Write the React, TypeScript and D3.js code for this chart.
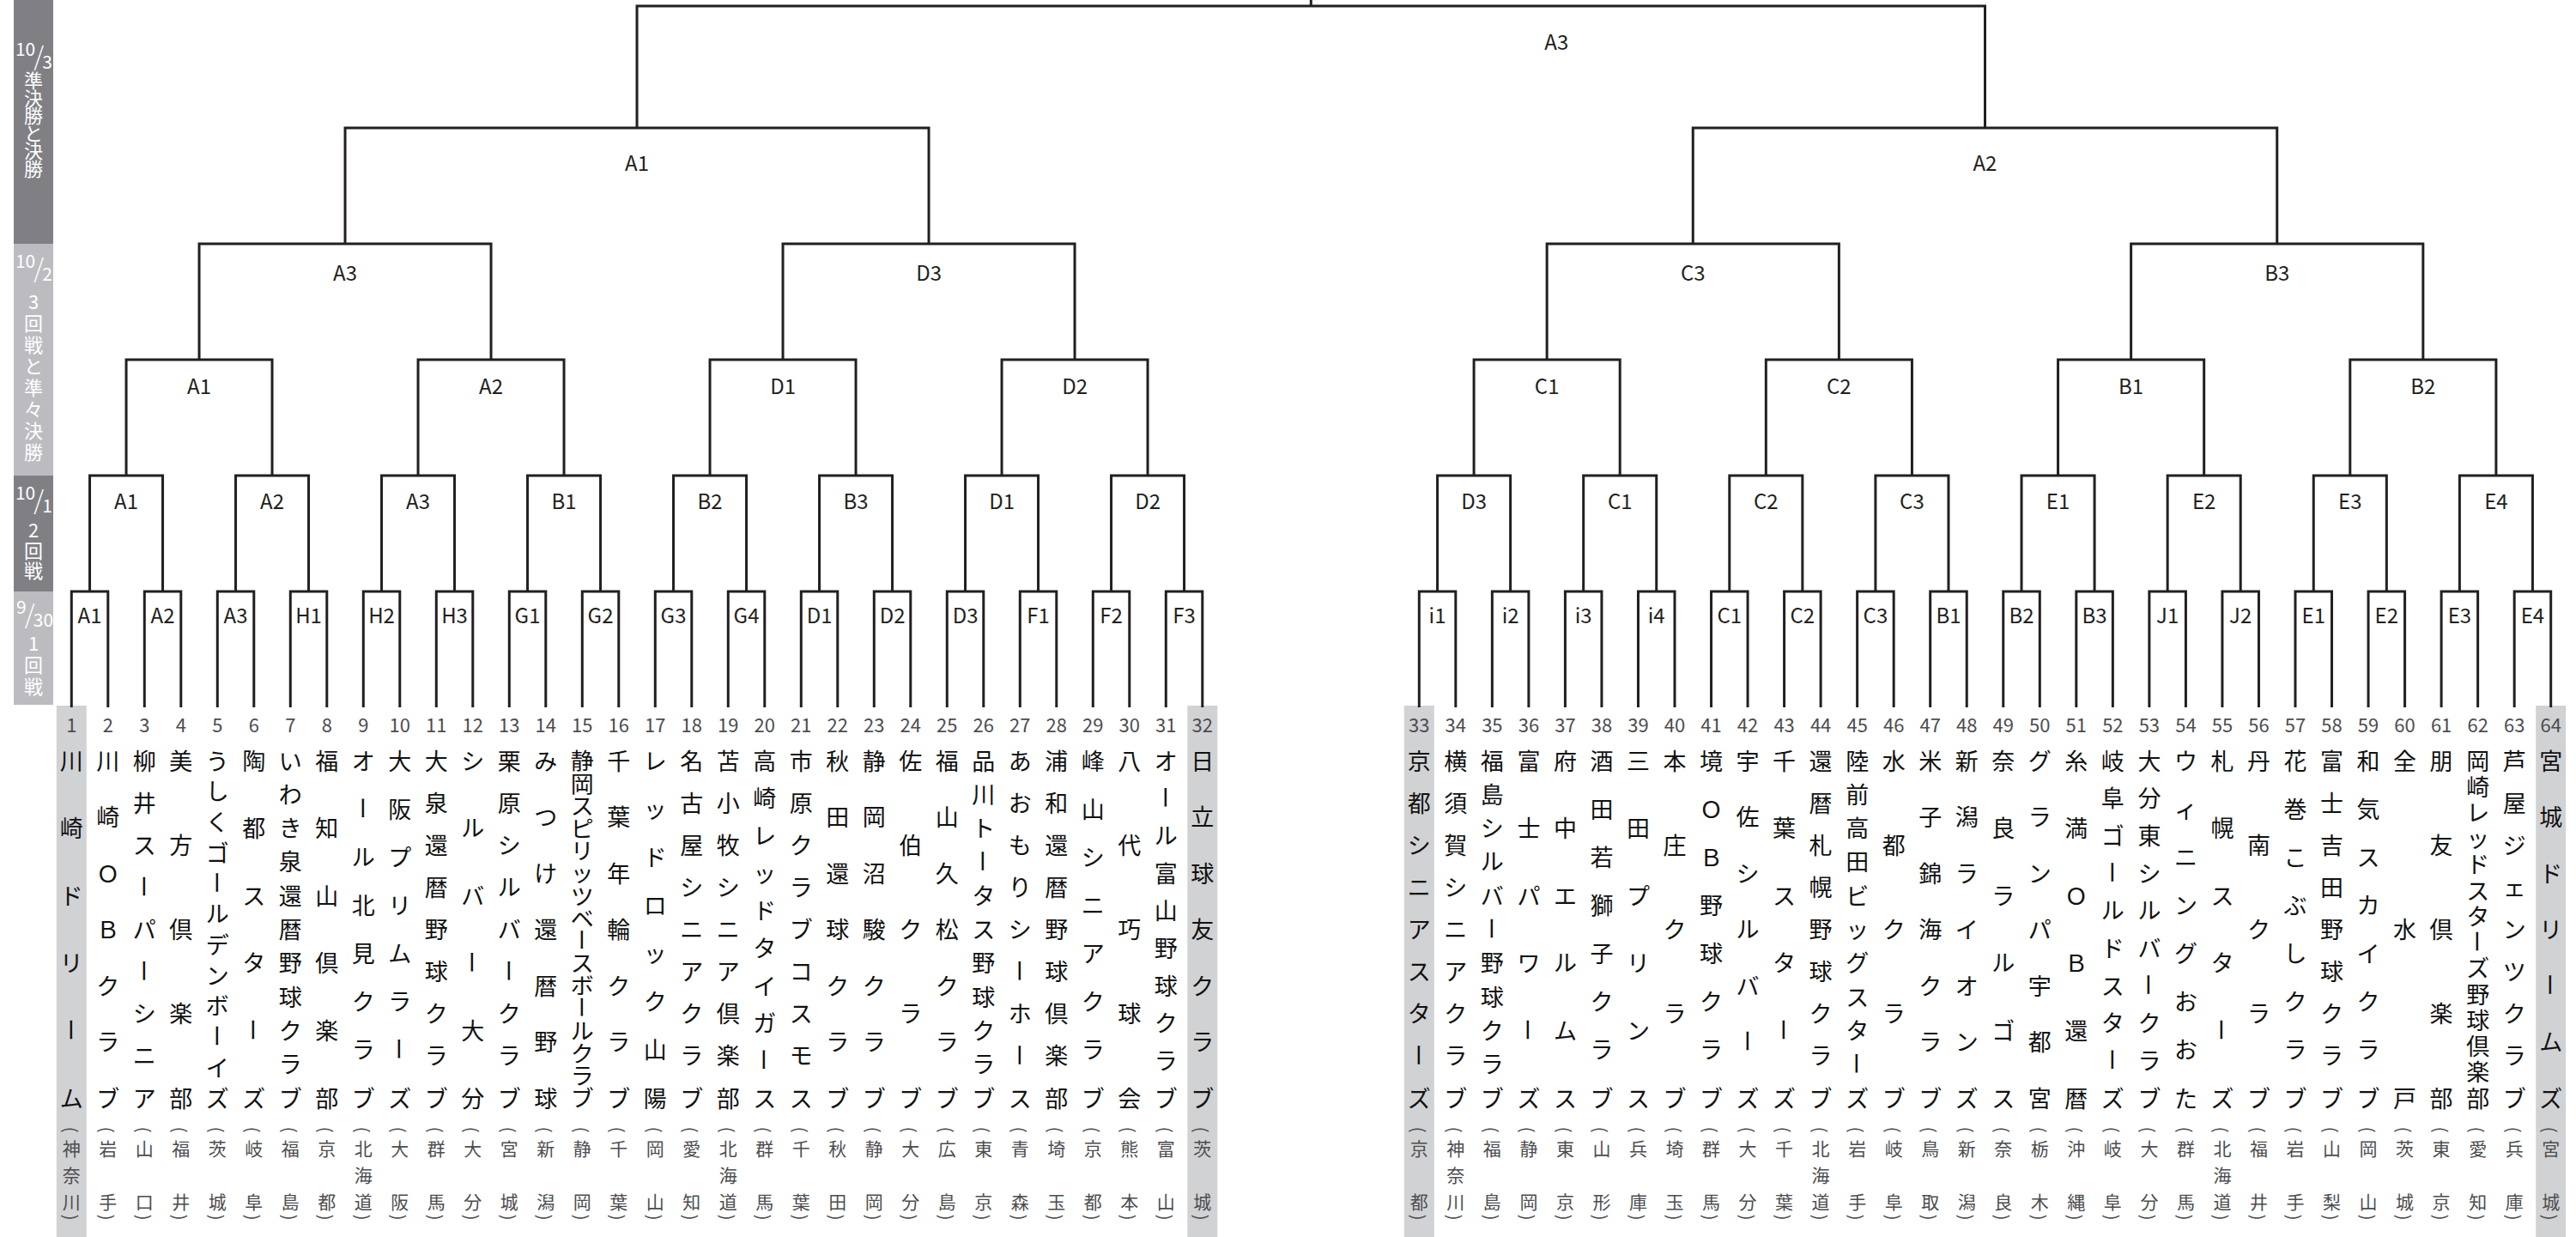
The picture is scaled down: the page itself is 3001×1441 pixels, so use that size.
import React from 'react';
import * as d3 from 'd3';

const teamNames = [
  '川崎ドリーム', '川崎ＯＢクラブ', '柳井スーパーシニア', '美方倶楽部', 'うしくゴールデンボーイズ', '陶都スターズ', 'いわき泉還暦野球クラブ', '福知山倶楽部',
  'オール北見クラブ', '大阪プリムラーズ', '大泉還暦野球クラブ', 'シルバー大分', '栗原シルバークラブ', 'みつけ還暦野球', '静岡スピリッツベースボールクラブ', '千葉年輪クラブ',
  'レッドロック山陽', '名古屋シニアクラブ', '苫小牧シニア倶楽部', '高崎レッドタイガース', '市原クラブコスモス', '秋田還球クラブ', '静岡沼駿クラブ', '佐伯クラブ',
  '福山久松クラブ', '品川トータス野球クラブ', 'あおもりシーホース', '浦和還暦野球倶楽部', '峰山シニアクラブ', '八代巧球会', 'オール富山野球クラブ', '日立球友クラブ',
  '京都シニアスターズ', '横須賀シニアクラブ', '福島シルバー野球クラブ', '富士パワーズ', '府中エルムス', '酒田若獅子クラブ', '三田プリンス', '本庄クラブ',
  '境ＯＢ野球クラブ', '宇佐シルバーズ', '千葉スターズ', '還暦札幌野球クラブ', '陸前高田ビッグスターズ', '水都クラブ', '米子錦海クラブ', '新潟ライオンズ',
  '奈良ラルゴス', 'グランパ宇都宮', '糸満ＯＢ還暦', '岐阜ゴールドスターズ', '大分東シルバークラブ', 'ウィニングおおた', '札幌スターズ', '丹南クラブ',
  '花巻こぶしクラブ', '富士吉田野球クラブ', '和気スカイクラブ', '全水戸', '朋友倶楽部', '岡崎レッドスターズ野球倶楽部', '芦屋ジェンツクラブ', '宮城ドリームズ',
];

const prefectures = [
  '神奈川', '岩手', '山口', '福井', '茨城', '岐阜', '福島', '京都',
  '北海道', '大阪', '群馬', '大分', '宮城', '新潟', '静岡', '千葉',
  '岡山', '愛知', '北海道', '群馬', '千葉', '秋田', '静岡', '大分',
  '広島', '東京', '青森', '埼玉', '京都', '熊本', '富山', '茨城',
  '京都', '神奈川', '福島', '静岡', '東京', '山形', '兵庫', '埼玉',
  '群馬', '大分', '千葉', '北海道', '岩手', '岐阜', '鳥取', '新潟',
  '奈良', '栃木', '沖縄', '岐阜', '大分', '群馬', '北海道', '福井',
  '岩手', '山梨', '岡山', '茨城', '東京', '愛知', '兵庫', '宮城',
];

const round1Labels = [
  'A1', 'A2', 'A3', 'H1', 'H2', 'H3', 'G1', 'G2', 'G3', 'G4', 'D1', 'D2', 'D3', 'F1', 'F2', 'F3',
  'i1', 'i2', 'i3', 'i4', 'C1', 'C2', 'C3', 'B1', 'B2', 'B3', 'J1', 'J2', 'E1', 'E2', 'E3', 'E4',
];
const round2Labels = ['A1', 'A2', 'A3', 'B1', 'B2', 'B3', 'D1', 'D2', 'D3', 'C1', 'C2', 'C3', 'E1', 'E2', 'E3', 'E4'];
const round3Labels = ['A1', 'A2', 'D1', 'D2', 'C1', 'C2', 'B1', 'B2'];
const round4Labels = ['A3', 'D3', 'C3', 'B3'];
const semiLabels = ['A1', 'A2'];
const finalLabels = ['A3'];

const seededTeams = [1, 32, 33, 64];

const panelDates = [
  ['10', '3'],
  ['10', '2'],
  ['10', '1'],
  ['9', '30'],
];
const panelTitles = ['準決勝と決勝', '3回戦と準々決勝', '2回戦', '1回戦'];

const W = 3001;
const H = 1441;
const FONT = '"Noto Sans CJK JP", "Noto Sans", sans-serif';
const LINE = '#231f20';

export default function App() {
  const xLeft = d3.scaleLinear().domain([0, 31]).range([83.3, 1400.8]);
  const xRight = d3.scaleLinear().domain([32, 63]).range([1653.3, 2971.7]);
  const teamX = (i: number) => (i < 32 ? xLeft(i) : xRight(i));
  const levelTop = d3.scaleLinear().domain([1, 5]).range([689, 149]);
  const tops = [levelTop(1), levelTop(2), levelTop(3), levelTop(4), levelTop(5), 7];
  const labelOffset = [26, 28, 29, 32, 39, 40];
  const legBottom = 824;

  const roundLabels = [round1Labels, round2Labels, round3Labels, round4Labels, semiLabels, finalLabels];

  const levels: { xl: number; xr: number; x: number; label: string }[][] = [];
  let prev = d3.range(64).map((i) => ({ x: teamX(i) }));
  roundLabels.forEach((labels) => {
    const nodes = d3.range(prev.length / 2).map((k) => {
      const xl = prev[2 * k].x;
      const xr = prev[2 * k + 1].x;
      return { xl, xr, x: (xl + xr) / 2, label: labels[k] };
    });
    levels.push(nodes);
    prev = nodes;
  });

  const brackets: React.ReactNode[] = [];
  levels.forEach((nodes, l) => {
    const top = tops[l];
    const bottom = l === 0 ? legBottom : tops[l - 1];
    nodes.forEach((n, k) => {
      const p = d3.path();
      p.moveTo(n.xl, bottom);
      p.lineTo(n.xl, top);
      p.lineTo(n.xr, top);
      p.lineTo(n.xr, bottom);
      brackets.push(
        <path key={`b${l}-${k}`} d={p.toString()} fill="none" stroke={LINE} strokeWidth={3} strokeLinejoin="miter" />
      );
      const lx = l === 5 ? n.x + 286 : n.x;
      brackets.push(
        <text key={`t${l}-${k}`} x={lx} y={top + labelOffset[l]} textAnchor="middle" dominantBaseline="central"
          fontSize={24} fill="#231f20" fontFamily={FONT}>{n.label}</text>
      );
    });
  });
  const finalNode = levels[5][0];
  const champ = d3.path();
  champ.moveTo(finalNode.x, tops[5]);
  champ.lineTo(finalNode.x, 0);

  // justified vertical text
  const vertical = (str: string, cx: number, y0: number, y1: number, size: number, color: string, key: string) => {
    const chars = Array.from(str);
    const n = chars.length;
    const step = n > 1 ? (y1 - y0) / (n - 1) : 0;
    const sy = n > 2 ? Math.min(1, step / size) : 1;
    return chars.map((c, j) => {
      const y = y0 + j * step;
      const rot = c === 'ー' ? ' rotate(90)' : '';
      return (
        <text key={`${key}-${j}`} transform={`translate(${cx},${y}) scale(1,${sy})${rot}`}
          textAnchor="middle" dominantBaseline="central" fontSize={size} fill={color} fontFamily={FONT}>{c}</text>
      );
    });
  };

  // left panel
  const panelX = 16;
  const panelW = 46;
  const sections = [
    { y0: 0, y1: tops[3], fill: '#808084', fracTop: 48, charStart: 92, charStep: 20.5 },
    { y0: tops[3], y1: tops[1], fill: '#bcbcc0', fracTop: 295, charStart: 350, charStep: 25 },
    { y0: tops[1], y1: tops[0], fill: '#808084', fracTop: 565, charStart: 616, charStep: 23.5 },
    { y0: tops[0], y1: legBottom - 3, fill: '#bcbcc0', fracTop: 698, charStart: 748, charStep: 25 },
  ];
  const panel = sections.map((s, i) => {
    const [num, den] = panelDates[i];
    const dw = 10.5;
    const total = num.length * dw + 8 + den.length * dw;
    const startX = panelX + panelW / 2 - total / 2 + 1;
    const numEnd = startX + num.length * dw;
    const denStart = numEnd + 8;
    const chars = Array.from(panelTitles[i]);
    return (
      <g key={`p${i}`}>
        <rect x={panelX} y={s.y0} width={panelW} height={s.y1 - s.y0} fill={s.fill} />
        <text x={numEnd} y={s.fracTop + 17} textAnchor="end" fontSize={21} fill="#fff" fontFamily={FONT}>{num}</text>
        <text x={numEnd + 4} y={s.fracTop + 29} textAnchor="middle" fontSize={30} fill="#fff" fontFamily={FONT} fontWeight={300}>/</text>
        <text x={denStart} y={s.fracTop + 32} textAnchor="start" fontSize={21} fill="#fff" fontFamily={FONT}>{den}</text>
        {chars.map((c, j) => (
          <text key={j} x={panelX + panelW / 2} y={s.charStart + j * s.charStep} textAnchor="middle"
            dominantBaseline="central" fontSize={22} fill="#fff" fontFamily={FONT}>{c}</text>
        ))}
      </g>
    );
  });

  const nameTop = 885;
  const nameBottom = 1278;
  const prefTop = 1337;
  const prefBottom = 1399;
  const teams = d3.range(64).map((i) => {
    const x = teamX(i);
    const seeded = seededTeams.includes(i + 1);
    return (
      <g key={`team${i}`}>
        {seeded && <rect x={x - 17.5} y={legBottom - 2} width={35} height={H - legBottom + 2} fill="#d1d2d4" />}
        <text x={x} y={843} textAnchor="middle" dominantBaseline="central" fontSize={22} fill="#4d4d4f" fontFamily={FONT}>{i + 1}</text>
        {vertical(teamNames[i], x, nameTop, nameBottom, 27, '#111', `n${i}`)}
        <text transform={`translate(${x},${prefTop - 21}) rotate(90)`} textAnchor="middle" dominantBaseline="central"
          fontSize={20} fill="#4d4d4f" fontFamily={FONT}>(</text>
        {vertical(prefectures[i], x, prefTop, prefBottom, 21, '#4d4d4f', `p${i}`)}
        <text transform={`translate(${x},${prefBottom + 19}) rotate(90)`} textAnchor="middle" dominantBaseline="central"
          fontSize={20} fill="#4d4d4f" fontFamily={FONT}>)</text>
      </g>
    );
  });

  return (
    <svg width={W} height={H} viewBox={`0 0 ${W} ${H}`} style={{ position: 'absolute', left: 0, top: 0, background: '#fff' }}>
      <rect x={0} y={0} width={W} height={H} fill="#fff" />
      {panel}
      {teams}
      {brackets}
      <path d={champ.toString()} stroke={LINE} strokeWidth={3} fill="none" />
    </svg>
  );
}
